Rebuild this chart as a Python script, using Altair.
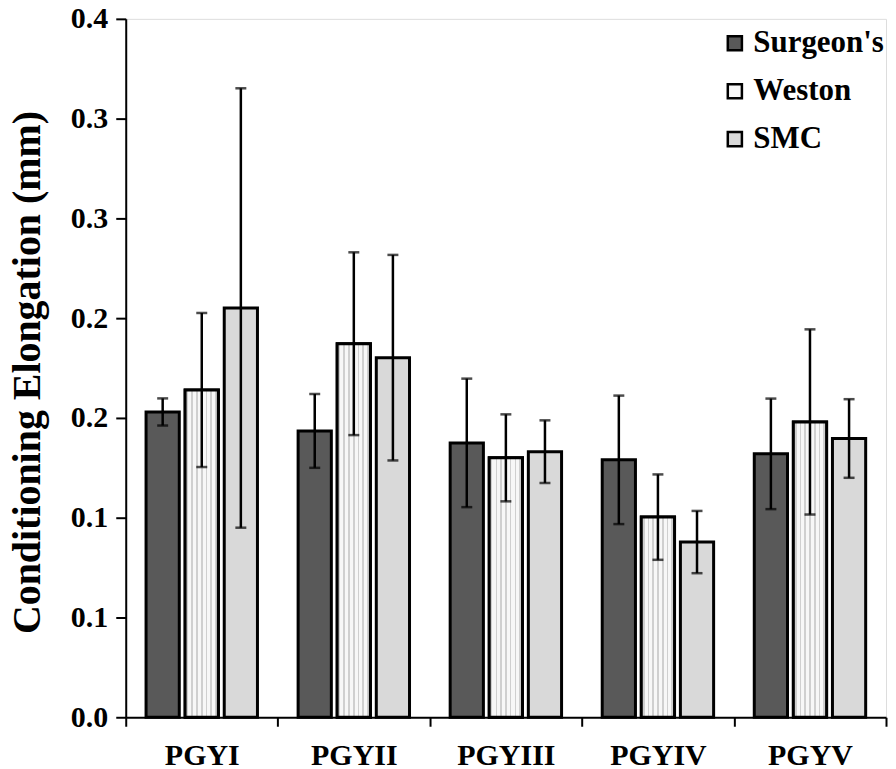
import altair as alt
import pandas as pd

categories = ["PGYI", "PGYII", "PGYIII", "PGYIV", "PGYV"]
series = ["Surgeon's", "Weston", "SMC"]

surgeon = [0.153, 0.1435, 0.1375, 0.129, 0.132]
surgeon_err = [0.0068, 0.0185, 0.0322, 0.0322, 0.0277]
weston = [0.164, 0.1872, 0.130, 0.1003, 0.148]
weston_err = [0.0386, 0.0458, 0.0218, 0.0214, 0.0464]
smc = [0.2051, 0.1802, 0.1331, 0.0878, 0.1397]
smc_err = [0.1101, 0.0515, 0.0157, 0.0156, 0.0197]

y_ticks = [0.0, 0.05, 0.10, 0.15, 0.20, 0.25, 0.30, 0.35]
y_tick_labels = ["0.0", "0.1", "0.1", "0.2", "0.2", "0.3", "0.3", "0.4"]

fill_colors = ["#595959", "#f7f7f7", "#d9d9d9"]

rows = []
for name, vals, errs in [("Surgeon's", surgeon, surgeon_err),
                         ("Weston", weston, weston_err),
                         ("SMC", smc, smc_err)]:
    for c, v, e in zip(categories, vals, errs):
        rows.append({"cat": c, "series": name, "value": v,
                     "lo": v - e, "hi": v + e})
df = pd.DataFrame(rows)

FONT = "Liberation Serif"

label_array = "[" + ",".join("'" + s + "'" for s in y_tick_labels) + "]"

x_enc = alt.X("cat:N", sort=categories,
              scale=alt.Scale(domain=categories, paddingInner=0, paddingOuter=0),
              axis=alt.Axis(title=None, labelAngle=0, tickBand="extent",
                            labelFont=FONT, labelFontSize=30, labelFontWeight="bold",
                            labelColor="black", labelPadding=14,
                            tickSize=9, tickWidth=2, tickColor="black",
                            domainColor="black", domainWidth=2))
xoff_enc = alt.XOffset("series:N", sort=series,
                       scale=alt.Scale(domain=series, paddingInner=0.15, paddingOuter=0.52))
y_enc = alt.Y("value:Q",
              scale=alt.Scale(domain=[0, 0.35], nice=False, zero=True),
              axis=alt.Axis(values=y_ticks,
                            labelExpr=label_array + "[round(datum.value*20)]",
                            title="Conditioning Elongation (mm)", grid=False,
                            labelFont=FONT, labelFontSize=30, labelFontWeight="bold",
                            labelColor="black", labelPadding=8,
                            titleFont=FONT, titleFontSize=40, titleFontWeight="bold",
                            titleColor="black", titleX=-78, titleY=354,
                            tickSize=10, tickWidth=2, tickColor="black",
                            domainColor="black", domainWidth=2))

base = alt.Chart(df)

bars = base.mark_bar(stroke="black", strokeWidth=3).encode(
    x=x_enc, xOffset=xoff_enc, y=y_enc,
    color=alt.Color("series:N", sort=series,
                    scale=alt.Scale(domain=series, range=fill_colors),
                    legend=alt.Legend(title=None, orient="none", legendX=595, legendY=9,
                                      symbolType="square", symbolSize=200,
                                      symbolStrokeColor="black", symbolStrokeWidth=2.5,
                                      labelFont=FONT, labelFontSize=31,
                                      labelFontWeight="bold", labelColor="black",
                                      labelOffset=3, rowPadding=16, padding=0)),
)

# vertical stripe texture for Weston bars
stops = [alt.GradientStop(offset=0, color="#f7f7f7")]
n = 7
for k in range(n):
    c = (k + 0.5) / n
    a, b = c - 0.025, c + 0.025
    stops += [alt.GradientStop(offset=a, color="#f7f7f7"),
              alt.GradientStop(offset=a, color="#cfcfcf"),
              alt.GradientStop(offset=b, color="#cfcfcf"),
              alt.GradientStop(offset=b, color="#f7f7f7")]
stops.append(alt.GradientStop(offset=1, color="#f7f7f7"))
stripe = alt.LinearGradient(gradient="linear", stops=stops, x1=0, x2=1, y1=0, y2=0)

weston_bars = base.transform_filter(alt.datum.series == "Weston").mark_bar(
    fill=stripe, stroke="black", strokeWidth=3).encode(
    x=x_enc, xOffset=xoff_enc, y=y_enc)

err_line = base.mark_rule(color="black", strokeWidth=2.5).encode(
    x=x_enc, xOffset=xoff_enc, y="lo:Q", y2="hi:Q")
cap_lo = base.mark_tick(color="black", thickness=2.5, size=11).encode(
    x=x_enc, xOffset=xoff_enc, y="lo:Q")
cap_hi = base.mark_tick(color="black", thickness=2.5, size=11).encode(
    x=x_enc, xOffset=xoff_enc, y="hi:Q")

chart = alt.layer(bars, weston_bars, err_line, cap_lo, cap_hi).properties(
    width=762, height=700,
    autosize=alt.AutoSizeParams(type="none"),
    padding={"left": 118, "top": 10, "right": 2, "bottom": 58},
).configure_view(stroke=None).configure(background="white")

chart.save("out.html", embed_options={"renderer": "svg", "actions": False})
